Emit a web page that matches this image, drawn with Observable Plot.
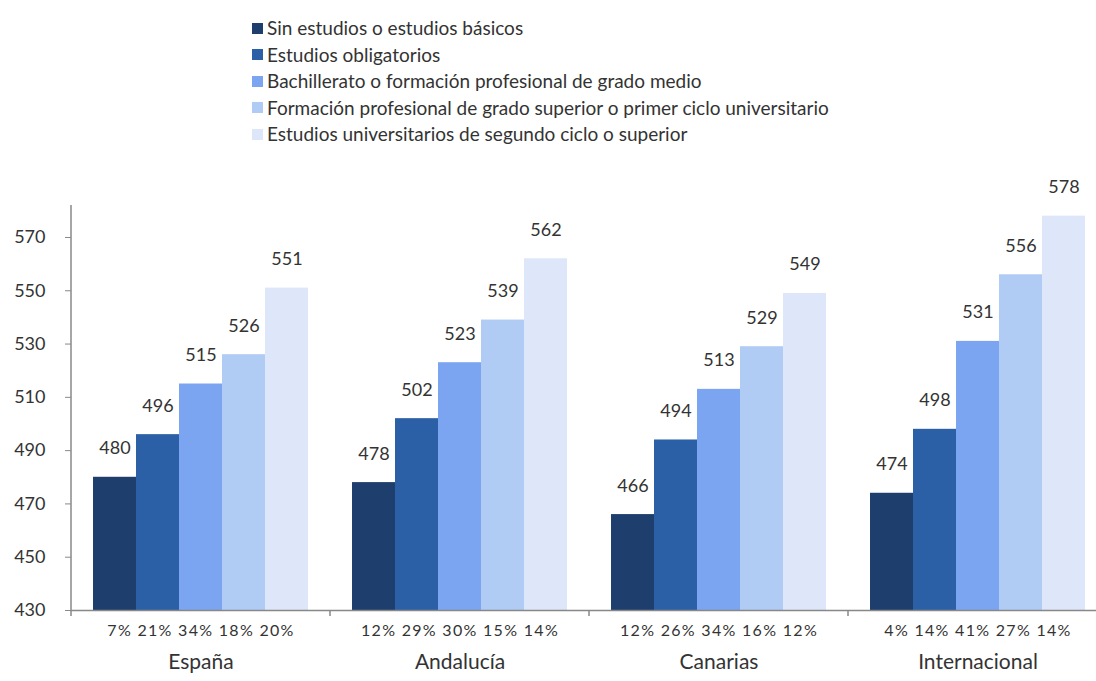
<!DOCTYPE html>
<html>
<head>
<meta charset="utf-8">
<script src="https://cdn.jsdelivr.net/npm/d3@7"></script>
<script src="https://cdn.jsdelivr.net/npm/@observablehq/plot@0.6"></script>
<style>
  body { margin: 0; background: #fff; font-family: Lato, "Open Sans", sans-serif; }
  #legend { height: 150px; box-sizing: border-box; padding: 15px 0 0 252px; }
  .row { height: 26.5px; line-height: 26.5px; font-size: 19px; color: #333; display: flex; align-items: center; }
  .sw { width: 11px; height: 11px; margin-right: 4px; flex: none; }
  svg { display: block; }
  .pct text { letter-spacing: 1.3px; }
</style>
</head>
<body>
<div id="legend"></div>
<div id="chart"></div>
<script>
const groups = ["España", "Andalucía", "Canarias", "Internacional"];
const levels = [
  "Sin estudios o estudios básicos",
  "Estudios obligatorios",
  "Bachillerato o formación profesional de grado medio",
  "Formación profesional de grado superior o primer ciclo universitario",
  "Estudios universitarios de segundo ciclo o superior"
];
const colors = ["#1e3e6e", "#2b60a7", "#7ba5f0", "#b0cbf4", "#dde7f9"];
const scoresEspana = [480, 496, 515, 526, 551];
const scoresAndalucia = [478, 502, 523, 539, 562];
const scoresCanarias = [466, 494, 513, 529, 549];
const scoresInternacional = [474, 498, 531, 556, 578];
const pctEspana = [7, 21, 34, 18, 20];
const pctAndalucia = [12, 29, 30, 15, 14];
const pctCanarias = [12, 26, 34, 16, 12];
const pctInternacional = [4, 14, 41, 27, 14];
const yTicks = [430, 450, 470, 490, 510, 530, 550, 570];
const yBase = 430;
const yTop = 582;

const scores = [scoresEspana, scoresAndalucia, scoresCanarias, scoresInternacional];
const pcts = [pctEspana, pctAndalucia, pctCanarias, pctInternacional];
const rows = [];
groups.forEach((g, i) => levels.forEach((l, j) => rows.push({group: g, level: l, value: scores[i][j], pct: pcts[i][j]})));
const pctRows = groups.map((g, i) => ({group: g, text: pcts[i].map(p => p + "%").join(" ")}));

// legend
const legend = document.getElementById("legend");
levels.forEach((l, j) => {
  const r = document.createElement("div");
  r.className = "row";
  r.innerHTML = `<span class="sw" style="background:${colors[j]}"></span><span>${l}</span>`;
  legend.appendChild(r);
});

const chart = Plot.plot({
  width: 1096,
  height: 531,
  marginLeft: 71,
  marginRight: -11,
  marginTop: 55,
  marginBottom: 71,
  style: {fontFamily: "Lato, 'Open Sans', sans-serif", fontSize: "16px", color: "#333", background: "#fff"},
  fx: {domain: groups, paddingInner: 0, paddingOuter: 0, round: false, label: null},
  x: {domain: levels, paddingInner: 0, paddingOuter: 0.512, round: false, axis: null},
  y: {domain: [yBase, yTop], label: null},
  color: {domain: levels, range: colors},
  marks: [
    Plot.axisY({ticks: yTicks, tickSize: 6, tickPadding: 20, stroke: "#888", fill: "#333", fontSize: 18, label: null}),
    Plot.axisFx({anchor: "bottom", tickSize: 0, tickPadding: 44, fontSize: 21, fill: "#333", label: null}),
    Plot.barY(rows, {fx: "group", x: "level", y1: () => yBase, y2: "value", fill: "level"}),
    Plot.ruleY([yBase], {stroke: "#888", strokeWidth: 1.5}),
    Plot.text(rows, {fx: "group", x: "level", y: "value", text: d => String(d.value), lineAnchor: "bottom", dy: -23, fontSize: 18, fill: "#333"}),
    Plot.text(pctRows, {fx: "group", frameAnchor: "bottom", text: "text", lineAnchor: "middle", dy: 20, fontSize: 16, fill: "#333", className: "pct"})
  ]
});
document.getElementById("chart").appendChild(chart);

// y axis line and group separator ticks, placed with the plot's own scales
const y = chart.scale("y");
const fx = chart.scale("fx");
const svg = d3.select(chart);
const y0 = y.apply(yBase);
const left = fx.apply(groups[0]);
const gAx = svg.append("g").attr("stroke", "#888").attr("stroke-width", 1.5);
gAx.append("line").attr("x1", left).attr("x2", left).attr("y1", y.apply(yTop)).attr("y2", y0 + 6);
groups.slice(1).forEach(g => {
  const bx = fx.apply(g);
  gAx.append("line").attr("x1", bx).attr("x2", bx).attr("y1", y0).attr("y2", y0 + 6);
});
</script>
</body>
</html>
